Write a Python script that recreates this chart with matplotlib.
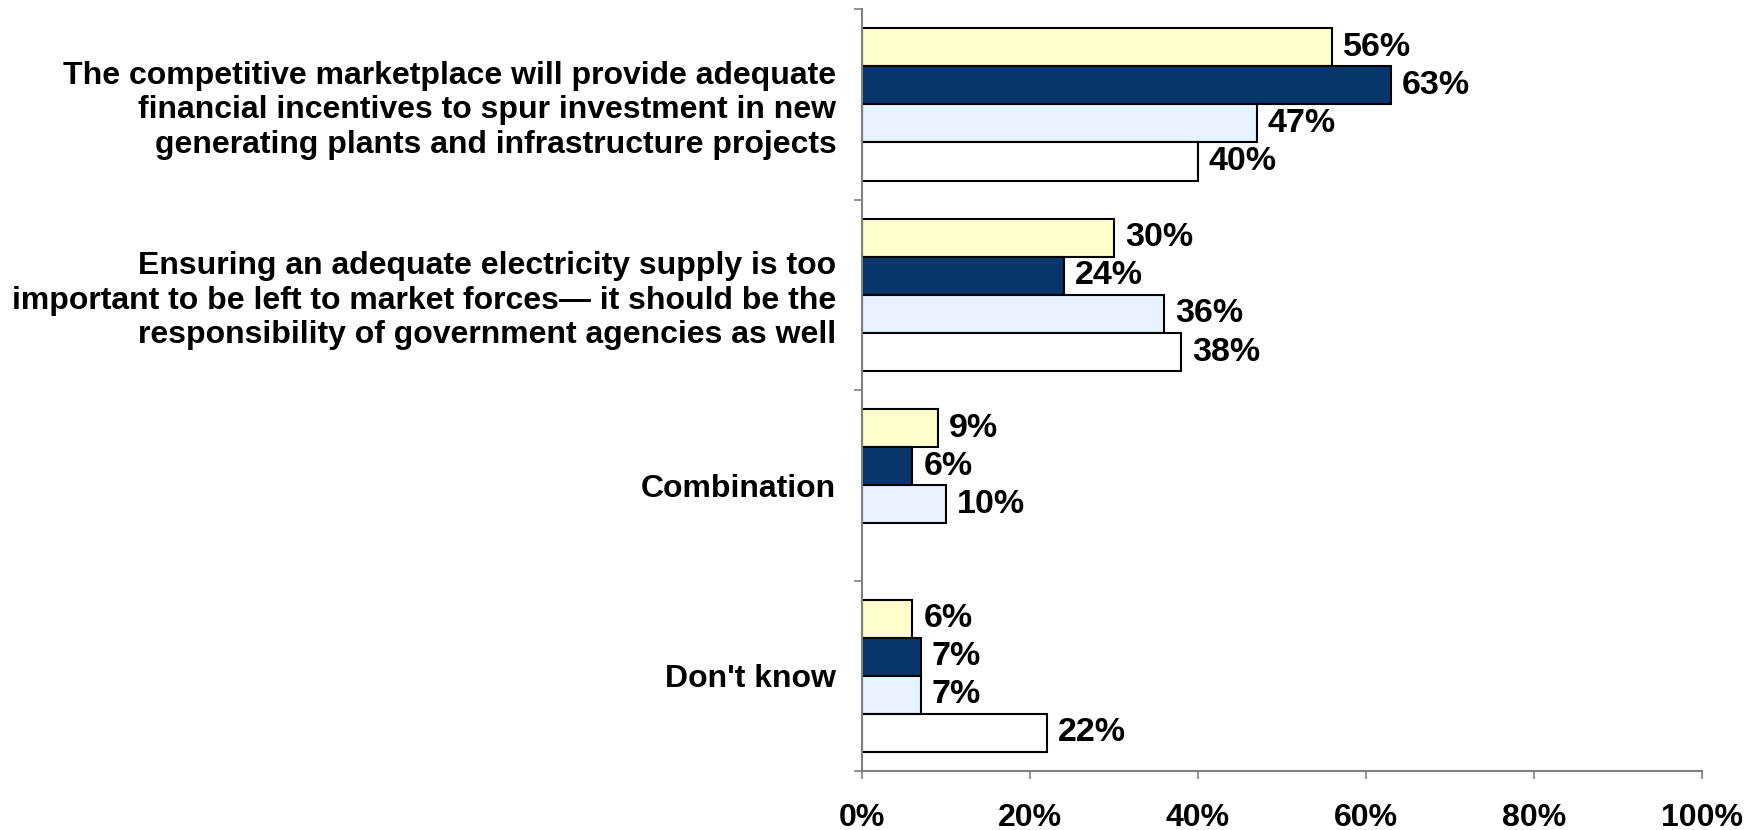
import matplotlib
matplotlib.use("Agg")
import matplotlib.pyplot as plt
import numpy as np

plt.rcParams['font.family'] = ['Liberation Sans', 'DejaVu Sans']

# data
categories = [
    "The competitive marketplace will provide adequate\nfinancial incentives to spur investment in new\ngenerating plants and infrastructure projects",
    "Ensuring an adequate electricity supply is too\nimportant to be left to market forces\u2014 it should be the\nresponsibility of government agencies as well",
    "Combination",
    "Don't know",
]
series_a = [56, 30, 9, 6]
series_b = [63, 24, 6, 7]
series_c = [47, 36, 10, 7]
series_d = [40, 38, None, 22]
x_ticks = [0, 20, 40, 60, 80, 100]

colors = ["#FFFFCC", "#08366A", "#E5F2FF", "#FFFFFF"]

fig = plt.figure(figsize=(17.57, 8.30), dpi=100)
ax = fig.add_axes([0.4906, 0.071, 0.9687 - 0.4906, 0.989 - 0.071])

h = 0.2
y = np.arange(len(categories))
for k, (vals, col) in enumerate(zip([series_a, series_b, series_c, series_d], colors)):
    off = -0.3 + k * h
    for i, v in enumerate(vals):
        if v is None:
            continue
        ax.barh(y[i] + off, v, height=h, color=col, edgecolor="black", linewidth=1.5)
        ax.text(v + 1.3, y[i] + off, f"{v}%", va="center", ha="left",
                fontsize=24.5, fontweight="bold")

ax.set_xlim(0, 100)
ax.set_ylim(len(categories) - 0.5, -0.5)

ax.set_xticks(x_ticks)
ax.set_xticklabels([f"{t}%" for t in x_ticks], fontsize=23, fontweight="bold")
ax.tick_params(axis="x", length=6, width=1.2, color="#808080", pad=17)

ax.set_yticks(y)
ax.set_yticklabels(categories, fontsize=23, fontweight="bold")
ax.tick_params(axis="y", which="major", length=0, pad=18.5)
ax.set_yticks(np.arange(-0.5, len(categories)), minor=True)
ax.tick_params(axis="y", which="minor", length=6, width=1.2, color="#808080")

for s in ["top", "right"]:
    ax.spines[s].set_visible(False)
for s in ["left", "bottom"]:
    ax.spines[s].set_color("#808080")
    ax.spines[s].set_linewidth(1.5)

fig.savefig("out.png", dpi=100)
